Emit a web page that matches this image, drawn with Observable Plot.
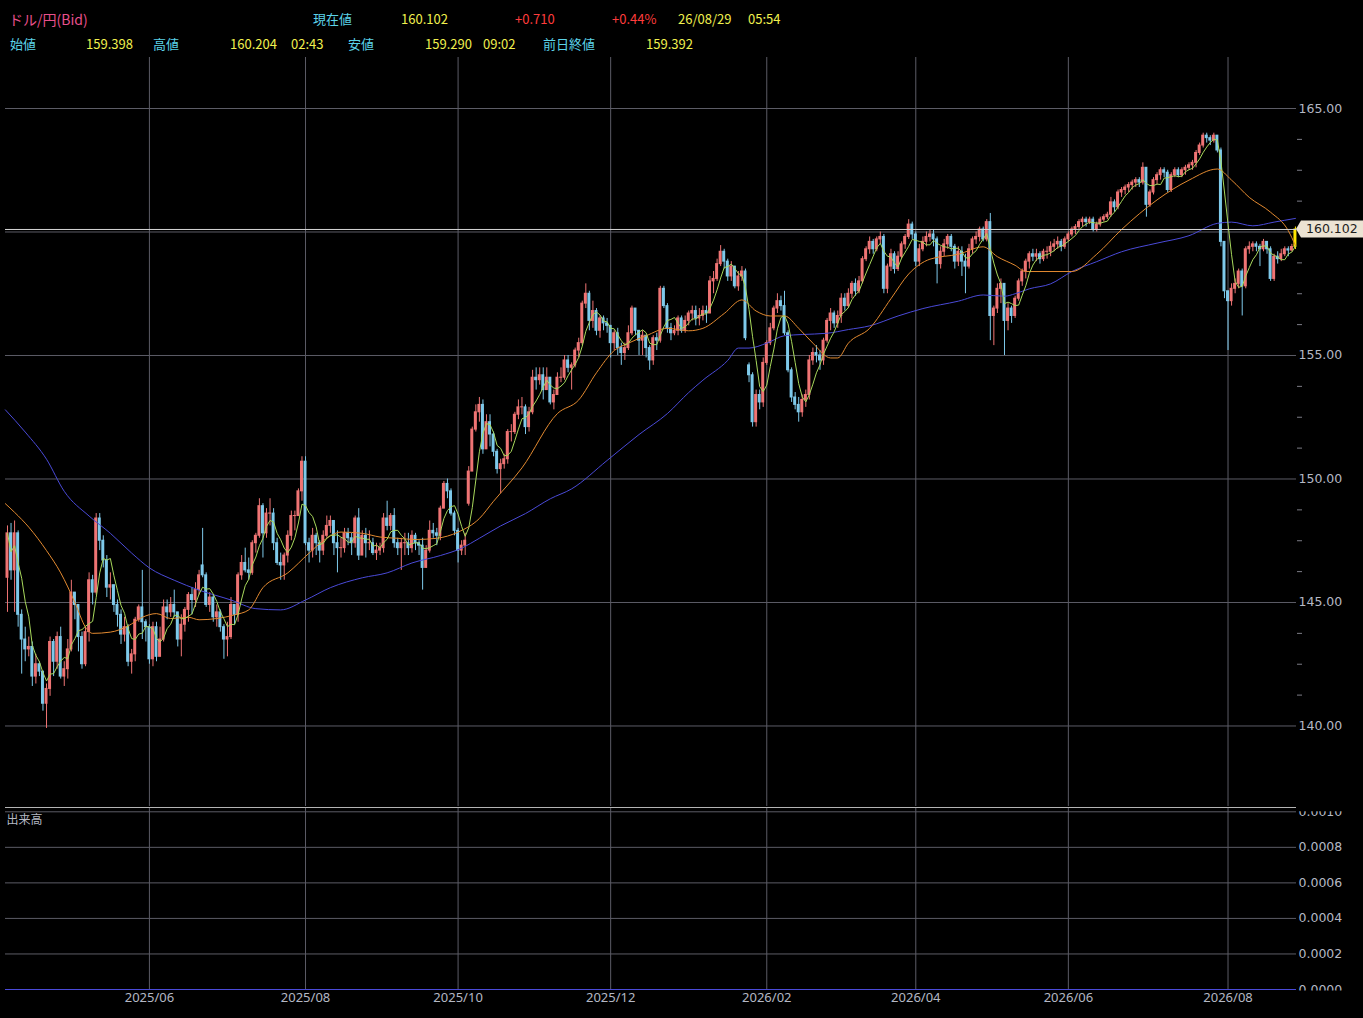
<!DOCTYPE html>
<html lang="ja">
<head>
<meta charset="utf-8">
<title>ドル/円(Bid)</title>
<script src="https://cdn.jsdelivr.net/npm/d3@7"></script>
<script src="https://cdn.jsdelivr.net/npm/@observablehq/plot@0.6"></script>
<style>
  html, body { margin:0; padding:0; background:#000; }
  body { width:1363px; height:1018px; overflow:hidden; position:relative; font-family:"Noto Sans CJK JP","Noto Sans",sans-serif; }
  #header { position:relative; height:57px; }
  #header span { position:absolute; font-size:13px; line-height:16px; white-space:pre; }
  #chart svg { display:block; }
</style>
</head>
<body>
<div id="header"></div>
<div id="chart"></div>
<script>
// ---------------- DATA ----------------
// daily candles, index 0 = 2025/04/07 ... index 363 = 2026/08/28
const closes = [
  147.8,146.3,147.8,144.5,143.5,143.1,143.2,142.0,142.5,142.2,140.9,141.5,143.4,142.6,143.6,142.0,142.3,143.1,
  145.4,144.9,143.6,142.5,143.8,145.9,145.4,148.4,147.5,146.7,145.6,145.7,144.9,144.5,143.7,144.0,142.6,142.9,144.3,144.8,144.2,144.0,
  142.7,144.0,142.8,143.5,144.8,144.6,144.9,144.6,143.5,144.1,144.7,145.3,145.1,145.5,146.1,146.1,144.9,145.2,144.4,144.6,144.0,
  143.5,143.6,144.9,144.5,146.1,146.6,146.3,146.2,147.4,147.7,148.9,147.8,148.6,148.6,147.4,146.6,146.5,146.9,147.7,148.5,148.5,149.5,150.7,
  147.4,147.1,147.7,147.4,147.1,147.7,148.1,148.3,147.4,147.2,147.2,147.8,147.6,147.4,148.4,146.9,147.7,147.4,147.4,147.0,147.1,
  147.2,148.4,148.1,148.5,147.4,147.2,147.4,147.4,147.2,147.7,147.4,147.3,146.4,147.1,147.9,147.8,147.7,148.8,149.8,149.5,148.6,147.9,
  147.1,147.3,147.5,150.3,152.0,152.7,153.0,151.2,152.3,151.8,151.1,150.4,150.6,150.8,151.9,151.9,152.6,152.9,152.9,152.1,152.7,154.1,154.0,
  154.2,153.6,154.1,153.1,153.4,154.1,154.1,154.8,154.5,154.6,155.2,155.5,157.1,157.5,156.4,156.8,156.0,156.5,156.3,156.2,
  155.5,155.9,155.3,155.1,155.3,155.9,156.9,156.0,155.6,155.8,155.3,154.8,155.7,155.6,157.7,157.0,156.1,155.9,156.0,156.5,156.0,156.4,156.7,
  156.8,156.5,156.6,156.8,156.7,158.0,158.1,158.7,159.2,158.8,158.2,158.6,157.8,158.2,158.4,155.7,154.2,152.3,153.4,153.1,154.7,
  155.5,156.1,156.9,157.2,157.0,155.9,154.4,153.3,153.0,152.7,153.2,153.4,154.8,155.1,155.0,154.8,155.6,156.4,156.7,156.3,
  156.6,157.3,157.0,157.5,157.9,157.6,158.0,158.9,159.3,159.6,159.3,159.7,159.8,157.7,158.6,159.1,158.5,159.0,159.5,159.8,160.3,159.9,
  158.8,159.3,159.6,159.8,159.9,159.7,158.7,159.2,159.5,159.8,159.4,158.8,159.2,158.8,158.6,159.3,159.7,159.8,160.1,159.7,160.4,156.6,
  156.9,157.7,157.9,156.4,156.9,156.6,157.3,158.0,158.4,158.8,159.1,159.0,159.1,158.9,159.2,159.2,159.4,159.5,159.6,159.4,159.7,
  159.9,160.1,160.2,160.4,160.5,160.4,160.5,160.1,160.3,160.5,160.6,160.7,161.2,161.0,161.6,161.7,161.8,161.9,162.0,162.1,162.0,162.6,
  161.1,161.6,162.1,162.3,162.5,162.4,161.7,162.3,162.5,162.3,162.5,162.6,162.7,162.8,163.2,163.5,163.9,163.8,163.7,163.9,163.3,159.6,157.6,
  157.2,157.7,157.9,158.4,157.8,159.3,159.4,159.5,159.4,159.3,159.6,159.3,158.1,159.0,158.9,159.1,159.3,159.25,159.392,160.102
];
const highs = [
  148.1,148.2,148.3,147.9,144.7,144.0,143.6,143.4,142.9,142.6,142.2,141.7,143.6,143.5,143.8,144.0,142.6,143.5,
  145.9,145.4,144.9,143.8,144.0,146.2,146.1,148.6,148.6,147.7,146.9,146.2,145.7,145.1,144.7,144.4,144.1,143.1,144.4,144.9,146.3,144.3,
  144.1,144.2,144.2,144.0,145.1,145.1,145.2,145.5,144.6,144.5,144.8,145.4,145.6,145.8,146.3,148.0,146.2,145.4,145.3,144.9,144.7,
  144.1,144.2,145.2,144.7,146.2,146.9,147.2,146.8,147.5,147.8,149.2,149.0,148.8,149.2,148.8,147.6,147.0,147.0,147.9,148.7,148.7,149.6,150.9,
  150.9,147.6,148.0,147.8,147.5,147.9,148.5,148.5,148.3,147.9,147.6,148.0,148.0,147.8,148.5,148.8,147.9,148.0,147.9,147.6,147.4,
  147.4,148.6,149.1,148.6,148.8,147.6,147.6,147.8,147.8,147.9,147.8,147.5,147.6,147.3,148.3,148.2,148.0,148.9,149.9,150.0,149.6,148.7,
  148.0,147.5,147.8,150.5,152.1,153.0,153.3,153.2,152.6,152.6,151.9,151.2,150.8,151.0,152.0,152.2,152.7,153.2,153.3,153.0,152.9,154.4,154.5,
  154.5,154.5,154.5,154.1,153.6,154.3,154.5,155.0,155.0,154.7,155.3,155.7,157.2,157.9,157.6,157.2,156.9,156.6,156.6,156.5,
  156.2,156.0,156.1,155.5,155.5,156.2,157.0,156.9,156.0,156.0,155.8,155.4,155.8,155.9,157.8,157.8,157.1,156.3,156.2,156.6,156.6,156.6,156.8,
  157.0,157.0,156.9,157.0,157.0,158.2,158.4,158.9,159.45,159.3,158.9,158.8,158.6,158.4,158.6,158.5,154.7,154.3,153.6,153.6,154.9,
  155.6,156.3,157.0,157.5,157.4,157.6,156.0,154.5,153.5,153.3,153.4,153.6,155.0,155.3,155.4,155.2,155.7,156.5,156.9,156.8,
  156.8,157.5,157.5,157.7,158.0,158.1,158.2,159.0,159.4,159.8,159.7,159.8,160.0,159.9,158.7,159.3,159.2,159.2,159.6,159.9,160.5,160.4,
  160.0,159.5,159.8,160.0,160.1,160.1,159.8,159.4,159.7,159.9,159.9,159.5,159.4,159.4,159.1,159.5,159.8,160.0,160.2,160.2,160.5,160.75,
  157.0,157.9,158.1,157.85,157.1,157.0,157.4,158.1,158.5,158.9,159.2,159.3,159.3,159.2,159.3,159.4,159.6,159.7,159.8,159.7,159.8,
  160.0,160.2,160.3,160.5,160.6,160.6,160.6,160.6,160.4,160.6,160.7,160.8,161.4,161.3,161.7,161.8,161.9,162.0,162.1,162.2,162.2,162.8,
  162.6,161.7,162.2,162.4,162.6,162.6,162.5,162.4,162.6,162.6,162.6,162.7,162.8,162.9,163.3,163.6,164.0,164.0,163.9,164.0,163.9,163.4,159.6,
  157.6,157.9,158.1,158.5,158.5,159.4,159.6,159.6,159.6,159.5,159.7,159.6,159.4,159.1,159.2,159.3,159.4,159.4,159.5,160.204
];
const lows = [
  144.6,145.9,144.6,144.0,142.1,142.6,142.8,141.6,141.7,142.0,140.6,139.9,141.2,142.0,142.3,141.9,141.6,141.9,
  143.0,144.3,143.0,142.3,142.4,143.4,144.9,145.3,147.1,146.4,145.2,145.1,144.6,144.0,143.3,143.4,142.4,142.1,142.6,144.2,143.5,143.4,
  142.5,142.4,142.6,142.8,143.4,144.3,144.4,144.4,143.2,142.8,143.8,144.2,144.5,144.8,145.3,146.0,144.8,144.6,144.2,144.0,143.8,
  142.7,142.8,143.5,144.1,144.2,145.9,146.2,145.9,146.1,147.0,147.6,146.8,147.6,148.1,147.1,146.5,145.9,145.9,146.6,147.5,147.9,148.5,149.1,
  147.3,146.6,146.8,146.9,146.6,146.9,147.6,147.8,146.9,146.2,146.8,147.0,147.3,146.9,147.2,146.7,146.9,146.8,147.1,146.9,146.7,
  146.9,147.0,147.9,147.9,147.2,146.9,146.3,146.9,146.9,147.0,147.1,146.9,145.5,146.4,147.0,147.6,147.3,147.5,148.8,149.2,148.5,147.7,
  146.6,146.9,146.9,148.9,150.3,151.9,152.3,151.0,151.2,151.3,150.9,150.2,149.4,150.4,150.6,151.5,151.8,152.4,152.6,151.8,151.9,152.6,153.6,
  153.8,153.2,153.6,153.0,152.8,153.4,153.9,154.0,154.3,153.6,154.5,154.9,155.4,156.9,156.0,156.1,155.8,155.7,156.0,155.9,
  154.9,155.2,155.0,154.6,154.8,155.2,155.8,155.8,155.0,155.0,154.9,154.4,154.6,155.2,155.5,156.9,155.9,155.6,155.8,155.8,155.9,155.9,156.2,
  156.4,156.2,156.2,156.4,156.3,156.7,157.5,158.0,158.6,158.5,158.0,158.0,157.7,157.6,158.0,155.6,153.9,152.1,152.1,152.8,152.9,
  154.6,155.4,156.0,156.7,156.8,155.8,154.3,153.1,152.8,152.3,152.5,152.9,153.2,154.6,154.7,154.4,154.6,155.5,156.0,156.1,
  156.1,156.3,156.8,156.9,157.3,157.4,157.5,157.9,158.8,159.1,159.1,159.2,159.5,157.5,157.5,158.4,158.3,158.4,158.9,159.3,159.7,159.7,
  158.6,158.6,159.2,159.4,159.6,159.4,157.9,158.5,159.0,159.3,159.2,158.5,158.6,158.2,157.5,158.5,159.1,159.5,159.6,159.6,159.6,155.6,
  155.4,156.7,157.1,155.0,156.0,156.3,156.5,157.2,157.8,158.1,158.5,158.8,158.8,158.7,158.8,158.9,159.0,159.2,159.3,159.2,159.3,
  159.6,159.8,159.9,160.1,160.2,160.2,160.3,160.0,160.0,160.2,160.4,160.5,160.6,160.8,160.9,161.4,161.5,161.6,161.7,161.8,161.8,161.9,
  160.6,161.0,161.5,161.9,162.1,162.2,161.6,161.6,162.2,162.2,162.2,162.3,162.5,162.5,162.6,163.1,163.4,163.6,163.5,163.6,163.2,159.4,157.3,
  155.2,157.0,157.5,157.7,156.6,157.7,159.1,159.2,159.2,158.6,159.2,159.1,158.0,158.0,158.7,158.8,159.0,159.0,159.2,159.290
];
const firstOpen = 146.0;
// days whose open gapped away from the previous close: [index, open]
const gapOpens = [[55, 146.5], [130, 149.0], [209, 154.6], [363, 159.398]];

// long (blue) and medium (orange) moving averages: [index, value]
const maLong = [[-0.6,152.8],[5,151.9],[11,150.8],[16,149.5],[23,148.5],[29,147.8],[35,147.0],[40,146.4],[47,145.9],[54,145.5],
  [63,145.1],[70,144.75],[77,144.7],[84,145.1],[91,145.6],[100,146.0],[107,146.2],[114,146.6],[122,146.9],[128,147.2],[133,147.6],
  [139,148.1],[146,148.6],[153,149.2],[159,149.6],[169,150.75],[178,151.8],[186,152.65],[192,153.5],[196,154.0],[203,154.8],
  [206,155.3],[209,155.3],[214,155.5],[219,155.8],[224,155.85],[231,155.9],[237,156.05],[243,156.2],[251,156.6],[258,156.9],
  [268,157.2],[275,157.45],[281,157.4],[284,157.5],[288,157.7],[294,157.9],[300,158.4],[307,158.8],[314,159.2],[324,159.55],
  [333,159.85],[341,160.35],[345,160.4],[351,160.25],[357,160.4],[363,160.55]];
const maMid = [[-0.6,149.0],[2,148.65],[6,148.05],[11,147.1],[15,146.2],[19,145.0],[22,144.0],[24,143.75],[29,143.8],[34,144.05],
  [38,144.4],[42,144.55],[46,144.35],[51,144.4],[54,144.3],[59,144.35],[64,144.5],[68,144.7],[72,145.6],[79,146.2],[85,147.0],
  [89,147.5],[94,147.85],[100,147.8],[105,147.65],[110,147.6],[115,147.55],[121,147.6],[127,147.85],[133,148.4],[137,149.1],
  [145,150.45],[155,152.65],[161,153.2],[166,154.3],[171,155.2],[175,155.5],[180,155.8],[186,156.1],[192,156.0],[196,156.1],
  [202,156.7],[207,157.25],[211,156.8],[215,156.6],[219,156.6],[223,156.1],[227,155.5],[232,154.9],[234,154.9],[237,155.5],
  [243,156.1],[249,157.3],[254,158.3],[260,158.9],[268,159.1],[275,159.4],[279,159.0],[284,158.65],[287,158.4],[300,158.4],
  [307,159.1],[314,160.1],[324,161.3],[333,162.1],[341,162.55],[345,162.1],[350,161.4],[356,160.8],[361,160.05],[363,159.45]];

// axis ticks
const tickIdx = [40, 84, 127, 170, 214, 256, 299, 344];
const tickLabels = ["2025/06","2025/08","2025/10","2025/12","2026/02","2026/04","2026/06","2026/08"];
const priceGrid = [140, 145, 150, 155, 160, 165];
const priceLabelTicks = [140, 145, 150, 155, 165]; // 160.00 sits under the current-price tag
const priceMinorTicks = [141.25,142.5,143.75,146.25,147.5,148.75,151.25,152.5,153.75,156.25,157.5,158.75,161.25,162.5,163.75];
const volTicks = [0, 0.0002, 0.0004, 0.0006, 0.0008, 0.0010];

// header quote
const quoteTitle = "ドル/円(Bid)";
const quoteRow1 = [["現在値","lab"],["160.102","val"],["+0.710","neg"],["+0.44%","neg"],["26/08/29","val"],["05:54","val"]];
const quoteRow2 = [["始値","lab"],["159.398","val"],["高値","lab"],["160.204","val"],["02:43","val"],["安値","lab"],["159.290","val"],["09:02","val"],["前日終値","lab"],["159.392","val"]];

// ---------------- LAYOUT / STYLE ----------------
const W = 1363;
const GRID = "#5c5c66";
const AXIS = "#b4b8c4";
const UP = "#ef7474", DOWN = "#7ec9ea", LAST = "#ffe600";
const FONT = "'Noto Sans', 'Noto Sans CJK JP', sans-serif";
const AXFONT = "'DejaVu Sans', 'Noto Sans', sans-serif";
const colors = {lab: "#5cd3e8", val: "#f0f04e", neg: "#ff3c3c"};

// header
const header = document.getElementById("header");
function addSpan(text, color, left, top, size) {
  const s = document.createElement("span");
  s.textContent = text; s.style.color = color; s.style.left = left + "px"; s.style.top = top + "px";
  if (size) s.style.fontSize = size + "px";
  header.appendChild(s);
}
addSpan(quoteTitle, "#e8508c", 9, 11, 14);
const row1X = [313, 401, 515, 612, 678, 748];
quoteRow1.forEach(([t, c], k) => addSpan(t, colors[c], row1X[k], 11));
const row2X = [10, 86, 153, 230, 291, 348, 425, 483, 543, 646];
quoteRow2.forEach(([t, c], k) => addSpan(t, colors[c], row2X[k], 36));

// candles
const gapMap = new Map(gapOpens);
const candles = closes.map((c, i) => {
  const o = gapMap.has(i) ? gapMap.get(i) : (i === 0 ? firstOpen : closes[i - 1]);
  return {i, open: o, close: c, high: Math.max(highs[i], o, c), low: Math.min(lows[i], o, c)};
});
const lastIdx = candles.length - 1;
const lastClose = closes[lastIdx];
const candleColor = d => d.i === lastIdx ? LAST : (d.close >= d.open ? UP : DOWN);

const xDomain = [-0.56, 363.3];

const upper = Plot.plot({
  width: W, height: 749,
  marginLeft: 5, marginRight: 67, marginTop: 0, marginBottom: 0,
  style: {background: "#000", color: AXIS, fontFamily: FONT, fontSize: "13px"},
  x: {type: "linear", domain: xDomain, axis: null, label: null},
  y: {domain: [136.74, 167.065], axis: null, label: null},
  color: {type: "identity"},
  marks: [
    Plot.ruleX(tickIdx, {stroke: GRID}),
    Plot.ruleY(priceGrid, {stroke: GRID}),
    Plot.axisY({anchor: "right", ticks: priceMinorTicks, tickSize: 5, tickFormat: () => "", stroke: "#7c7c86", label: null}),
    Plot.axisY({anchor: "right", ticks: priceLabelTicks, tickSize: 0, tickPadding: 2, tickFormat: d3.format(".2f"), fill: AXIS, fontSize: 12.5, fontFamily: AXFONT, label: null}),
    Plot.ruleX(candles, {x: "i", y1: "low", y2: "high", stroke: candleColor, strokeWidth: 1}),
    Plot.rect(candles, {x1: d => d.i - 0.42, x2: d => d.i + 0.42, y1: "open", y2: "close", fill: candleColor, insetTop: -0.5, insetBottom: -0.5}),
    Plot.line(maLong, {x: d => d[0], y: d => d[1], stroke: "#4a4ad8", strokeWidth: 1, curve: "monotone-x"}),
    Plot.line(maMid, {x: d => d[0], y: d => d[1], stroke: "#e38a30", strokeWidth: 1, curve: "monotone-x"}),
    Plot.line(candles, Plot.windowY({k: 5, anchor: "end"}, {x: "i", y: "close", stroke: "#a8d85c", strokeWidth: 1})),
    Plot.ruleY([lastClose], {stroke: "#d6d6d6"})
  ]
});

// current price tag on the right
{
  const ys = upper.scale("y"), xs = upper.scale("x");
  const yP = ys.apply(lastClose), xr = xs.range[1];
  const g = d3.select(upper).append("g");
  g.append("path")
    .attr("d", `M${xr},${yP} L${xr + 5},${yP - 8.5} L${W},${yP - 8.5} L${W},${yP + 8.5} L${xr + 5},${yP + 8.5} Z`)
    .attr("fill", "#ece3d3");
  g.append("text").attr("x", xr + 10).attr("y", yP).attr("dy", "0.36em")
    .attr("text-anchor", "start")
    .attr("fill", "#1e1e1e").attr("font-size", 12.5).attr("font-family", AXFONT)
    .text(d3.format(".3f")(lastClose));
}

const volTop = 0.0010242;
const lower = Plot.plot({
  width: W, height: 212,
  marginLeft: 5, marginRight: 67, marginTop: 1, marginBottom: 29,
  style: {background: "#000", color: AXIS, fontFamily: FONT, fontSize: "13px"},
  x: {type: "linear", domain: xDomain, axis: null, label: null},
  y: {domain: [0, volTop], axis: null, label: null},
  marks: [
    Plot.ruleX(tickIdx, {stroke: GRID}),
    Plot.ruleY(volTicks.filter(v => v > 0), {stroke: GRID}),
    Plot.ruleY([volTop], {stroke: "#b4b4b4"}),
    Plot.ruleY([0], {stroke: "#4a4ad8"}),
    Plot.axisY({anchor: "right", ticks: volTicks, tickSize: 0, tickPadding: 2, tickFormat: d3.format(".4f"), fill: AXIS, fontSize: 12.5, fontFamily: AXFONT, label: null}),
    Plot.axisX({anchor: "bottom", ticks: tickIdx, tickSize: 0, tickPadding: 3, tickFormat: d => tickLabels[tickIdx.indexOf(d)], fill: AXIS, fontSize: 13, label: null}),
    Plot.text(["出来高"], {frameAnchor: "top-left", dx: 1, dy: 13, textAnchor: "start", lineAnchor: "middle", fill: AXIS, fontSize: 12, fontFamily: "'Noto Sans CJK JP', sans-serif"})
  ]
});

// clip the volume axis labels to the panel like the original
{
  const ys = lower.scale("y");
  const y0 = ys.apply(0.001), y1 = ys.apply(0) + 1.5;
  const svg = d3.select(lower);
  const defs = svg.insert("defs", ":first-child");
  defs.append("clipPath").attr("id", "volclip").append("rect")
    .attr("x", 0).attr("y", y0).attr("width", W).attr("height", y1 - y0);
  const lab = svg.select('g[aria-label="y-axis tick label"]');
  if (!lab.empty()) {
    const wrap = svg.append("g").attr("clip-path", "url(#volclip)");
    wrap.node().appendChild(lab.node());
  }
}

const chart = document.getElementById("chart");
chart.appendChild(upper);
chart.appendChild(lower);
</script>
</body>
</html>
